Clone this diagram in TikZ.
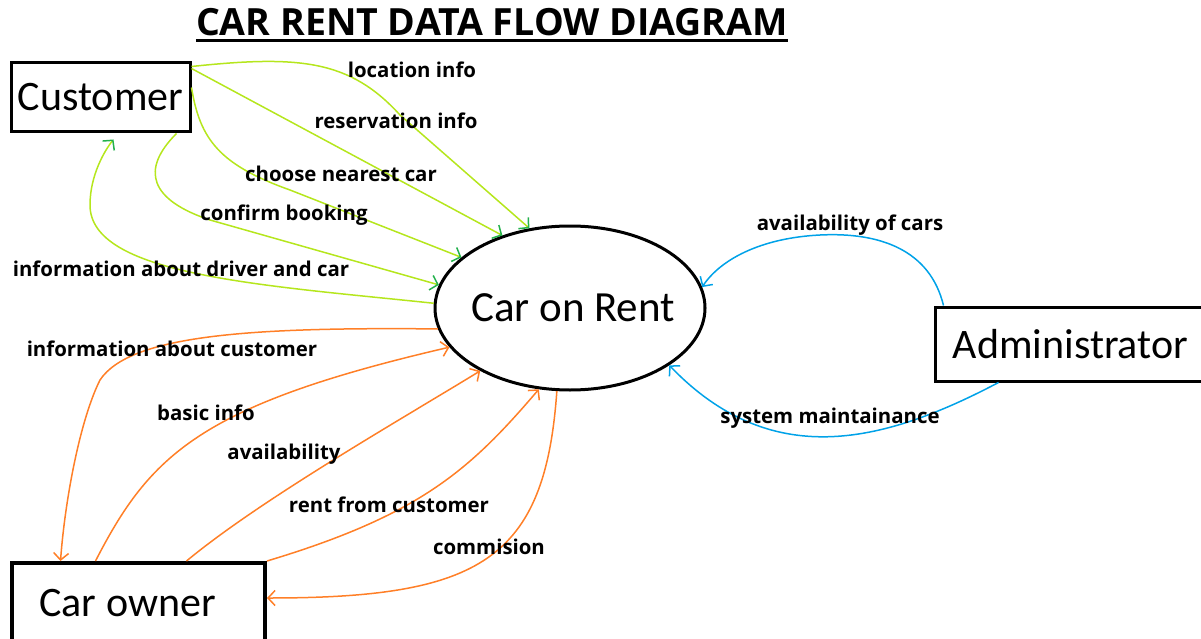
\documentclass[tikz,border=0pt]{standalone}
\usepackage{fontspec}
\setmainfont{Open Sans}
\newfontfamily\nodefont{Carlito}
\usetikzlibrary{arrows.meta,shapes.geometric}
\definecolor{flowlime}{HTML}{B5E61D}
\definecolor{flowgreen}{HTML}{22B14C}
\definecolor{floworange}{HTML}{FF7F27}
\definecolor{flowblue}{HTML}{00A2E8}
\begin{document}
\begin{tikzpicture}[x=1pt,y=-1pt,
  entity/.style={draw, line width=3pt, rectangle, inner sep=0pt, font=\nodefont\fontsize{42}{42}\selectfont},
  proc/.style={draw, line width=3pt, ellipse, inner sep=0pt, minimum width=270pt, minimum height=164pt, font=\nodefont\fontsize{43}{43}\selectfont},
  lab/.style={font=\fontsize{20.4}{20.4}\selectfont\bfseries, inner sep=0pt},
  gflow/.style={flowlime, line width=1.5pt, -{Straight Barb[length=7pt,width=15pt,color=flowgreen]}},
  oflow/.style={floworange, line width=1.5pt, -{Straight Barb[length=7pt,width=15pt]}},
  bflow/.style={flowblue, line width=1.5pt, -{Straight Barb[length=7pt,width=15pt]}}
]
\useasboundingbox (0,0) rectangle (1201,639);

\node (title) [font=\fontsize{37.5}{37.5}\selectfont\bfseries, inner sep=0pt] at (492,22) {CAR RENT DATA FLOW DIAGRAM};
\draw[line width=3pt] ([yshift=-5pt]title.south west) -- ([yshift=-5pt]title.south east);

\node (cust) [entity, minimum width=179pt, minimum height=69pt] at (100.5,97.5) {Customer};
\node (rent) [proc] at (570,308) {\makebox[0pt]{\hspace{6pt}Car on Rent}};
\node (admin) [entity, minimum width=271pt, minimum height=74pt] at (1070.5,344) {Administrator};
\node (owner) [entity, line width=4pt, minimum width=253pt, minimum height=80pt] at (138.5,603) {\makebox[0pt]{Car owner\rule{22pt}{0pt}}};

% green flows
\draw[gflow] ([yshift=-5pt]cust.north east) .. controls (300,55) and (350,60) .. (400,115) -- (rent.117);
\draw[gflow] ([yshift=-7pt]cust.north east) -- (rent.133);
\draw[gflow] ([yshift=10pt]cust.east) .. controls (200,140) and (220,165) .. (290,190) -- (rent.155);
\draw[gflow] ([xshift=-15pt]cust.south east) .. controls (140,170) and (150,200) .. (210,220) -- (rent.170);
\draw[gflow] (rent.178) .. controls (260,285) and (90,275) .. (90,205) .. controls (90,175) and (105,150) .. ([xshift=13pt,yshift=-6pt]cust.south);

% orange flows
\draw[oflow] (rent.189) .. controls (250,327) and (130,335) .. (100,380) .. controls (80,420) and (65,500) .. ([xshift=-78pt]owner.north);
\draw[oflow] ([xshift=-43pt]owner.north) .. controls (150,455) and (200,405) .. (rent.198);
\draw[oflow] ([xshift=48pt]owner.north) .. controls (260,500) and (400,420) .. (rent.215);
\draw[oflow] (owner.north east) .. controls (420,515) and (470,470) .. (rent.249);
\draw[oflow] (rent.261) .. controls (545,560) and (480,598) .. ([yshift=5pt]owner.east);

% blue flows
\draw[bflow] ([xshift=10pt]admin.north west) .. controls (930,250) and (880,232) .. (820,235) .. controls (760,238) and (720,260) .. (rent.9);
\draw[bflow] ([xshift=65pt]admin.south west) .. controls (880,445) and (770,470) .. (rent.330);

% labels
\node (l1) [lab] at (412,70) {location info};
\node (l2) [lab] at (396,121) {reservation info};
\node (l3) [lab] at (341,174) {choose nearest car};
\node (l4) [lab] at (284,215) {confirm booking};
\node (l5) [lab] at (181,269) {information about driver and car};
\node (l6) [lab] at (850,225) {availability of cars};
\node (l7) [lab] at (172,349) {information about customer};
\node (l8) [lab] at (206,413) {basic info};
\node (l9) [lab] at (284,454) {availability};
\node (l10) [lab] at (389,505) {rent from customer};
\node (l11) [lab] at (489,547) {commision};
\node (l12) [lab] at (830,418) {system maintainance};
\end{tikzpicture}
\end{document}
